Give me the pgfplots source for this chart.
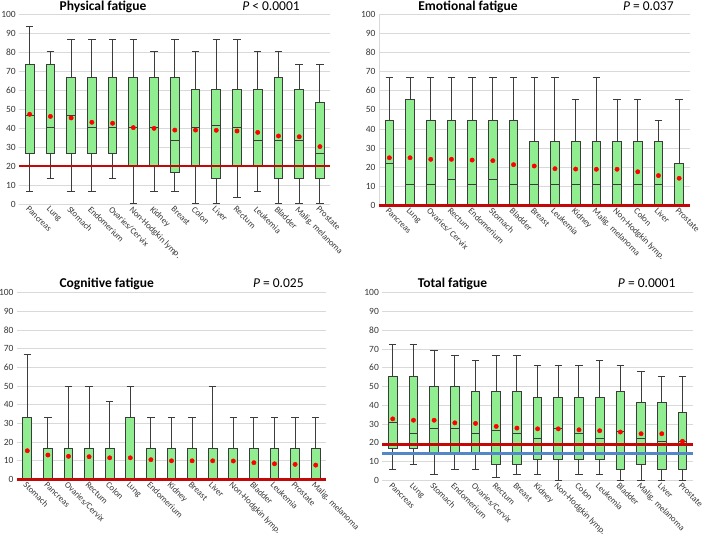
\documentclass[border=0pt]{standalone}
\usepackage{pgfplots}
\pgfplotsset{compat=1.18}
\usepgfplotslibrary{statistics}
\usepackage{fontspec}
\setmainfont{Carlito}
\definecolor{boxgreen}{RGB}{144,238,144}
\definecolor{boxedge}{RGB}{60,60,60}
\definecolor{gridgray}{RGB}{217,217,217}
\definecolor{ticktext}{RGB}{55,55,55}
\definecolor{thrred}{RGB}{196,8,8}
\definecolor{thrblue}{RGB}{84,135,200}
\definecolor{meanred}{RGB}{255,0,0}

\newcommand{\bx}[6]{\addplot[draw=boxedge, line width=1pt, fill=boxgreen,
  boxplot prepared={draw direction=y, draw position=#1, lower whisker=#2, lower quartile=#3,
  median=#4, upper quartile=#5, upper whisker=#6}] coordinates {};}

\pgfplotsset{
  panel/.style={
    scale only axis,
    anchor=south west,
    xmin=0.5, xmax=15.5, ymin=0, ymax=100,
    ytick={0,10,...,100},
    xtick={1,...,15},
    ymajorgrids, grid style={gridgray, line width=0.8pt},
    axis line style={draw=none},
    major tick length=0pt,
    tick label style={color=ticktext},
    yticklabel style={font=\fontsize{9.5}{11}\selectfont},
    xticklabel style={font=\fontsize{8.8}{10.5}\selectfont, rotate=-45, anchor=north west, inner sep=1pt},
    /pgf/number format/assume math mode=true,
    clip=false,
    boxplot/draw direction=y,
    boxplot/box extend=0.42,
    boxplot/whisker extend=0.36,
  },
}

\begin{document}
\begin{tikzpicture}
\useasboundingbox (0pt,0pt) rectangle (709pt,537pt);

% ---------------- Physical fatigue ----------------
\begin{axis}[panel, at={(19.3pt,333pt)}, width=311pt, height=190pt,
  xticklabels={Pancreas,Lung,Stomach,Endomerium,Ovaries/Cervix,Non-Hodgkin lymp.,Kidney,Breast,Colon,Liver,Rectum,Leukemia,Bladder,Malig. melanoma,Prostate}]
\bx{1}{6.7}{26.7}{46.7}{73.3}{93.3}
\bx{2}{13.3}{26.7}{40}{73.3}{80}
\bx{3}{6.7}{26.7}{46.7}{66.7}{86.7}
\bx{4}{6.7}{26.7}{40}{66.7}{86.7}
\bx{5}{13.3}{26.7}{40}{66.7}{86.7}
\bx{6}{0}{20}{40}{66.7}{86.7}
\bx{7}{6.7}{20}{40}{66.7}{80}
\bx{8}{6.7}{16.7}{33.3}{66.7}{86.7}
\bx{9}{0}{20}{40}{60}{80}
\bx{10}{0}{13.3}{41.3}{60}{86.7}
\bx{11}{3.3}{20}{40}{60}{86.7}
\bx{12}{6.7}{20}{33.3}{60}{80}
\bx{13}{0}{13.3}{33.3}{66.7}{80}
\bx{14}{0}{13.3}{33.3}{60}{73.3}
\bx{15}{0}{13.3}{26.7}{53.3}{73.3}
\addplot[thrred, line width=2.4pt] coordinates {(0.5,20) (15.5,20)};
\addplot[only marks, mark=*, mark size=2.2pt, color=meanred] coordinates {
(1,47.2) (2,46.1) (3,45.3) (4,43.0) (5,42.5) (6,40.2) (7,39.8) (8,38.9)
(9,38.9) (10,38.8) (11,38.4) (12,37.7) (13,35.8) (14,35.4) (15,30.2)};
\end{axis}

% ---------------- Emotional fatigue ----------------
\begin{axis}[panel, at={(379pt,331.3pt)}, width=310.5pt, height=191.7pt,
  axis y line*=left, y axis line style={draw=gridgray, line width=0.8pt},
  xticklabels={Pancreas,Lung,Ovaries/ Cervix,Rectum,Endomerium,Stomach,Bladder,Breast,Leukemia,Kidney,Malig. melanoma,Non-Hodgkin lymp.,Colon,Liver,Prostate}]
\bx{1}{0}{0}{22.2}{44.4}{66.7}
\bx{2}{0}{0}{11.1}{55.6}{66.7}
\bx{3}{0}{0}{11.1}{44.4}{66.7}
\bx{4}{0}{0}{13.9}{44.4}{66.7}
\bx{5}{0}{0}{11.1}{44.4}{66.7}
\bx{6}{0}{0}{13.9}{44.4}{66.7}
\bx{7}{0}{0}{11.1}{44.4}{66.7}
\bx{8}{0}{0}{11.1}{33.3}{66.7}
\bx{9}{0}{0}{11.1}{33.3}{66.7}
\bx{10}{0}{0}{11.1}{33.3}{55.6}
\bx{11}{0}{0}{11.1}{33.3}{66.7}
\bx{12}{0}{0}{11.1}{33.3}{55.6}
\bx{13}{0}{0}{11.1}{33.3}{55.6}
\bx{14}{0}{0}{11.1}{33.3}{44.4}
\bx{15}{0}{0}{0}{22.2}{55.6}
\addplot[thrred, line width=2.4pt] coordinates {(0.5,0) (15.5,0)};
\addplot[only marks, mark=*, mark size=2.2pt, color=meanred] coordinates {
(1,25.0) (2,25.0) (3,24.2) (4,24.2) (5,23.8) (6,23.5) (7,21.4) (8,20.7)
(9,19.3) (10,19.1) (11,19.0) (12,19.0) (13,17.7) (14,15.7) (15,14.3)};
\end{axis}

% ---------------- Cognitive fatigue ----------------
\begin{axis}[panel, at={(17pt,57.5pt)}, width=309pt, height=186.8pt,
  xticklabels={Stomach,Pancreas,Ovaries/Cervix,Rectum,Colon,Lung,Endomerium,Kidney,Breast,Liver,Non-Hodgkin lymp.,Bladder,Leukemia,Prostate,Malig. melanoma}]
\bx{1}{0}{0}{0}{33.3}{66.7}
\bx{2}{0}{0}{0}{16.7}{33.3}
\bx{3}{0}{0}{0}{16.7}{50}
\bx{4}{0}{0}{0}{16.7}{50}
\bx{5}{0}{0}{0}{16.7}{41.7}
\bx{6}{0}{0}{0}{33.3}{50}
\bx{7}{0}{0}{0}{16.7}{33.3}
\bx{8}{0}{0}{0}{16.7}{33.3}
\bx{9}{0}{0}{0}{16.7}{33.3}
\bx{10}{0}{0}{0}{16.7}{50}
\bx{11}{0}{0}{0}{16.7}{33.3}
\bx{12}{0}{0}{0}{16.7}{33.3}
\bx{13}{0}{0}{0}{16.7}{33.3}
\bx{14}{0}{0}{0}{16.7}{33.3}
\bx{15}{0}{0}{0}{16.7}{33.3}
\addplot[thrred, line width=2.4pt] coordinates {(0.5,0) (15.5,0)};
\addplot[only marks, mark=*, mark size=2.2pt, color=meanred] coordinates {
(1,15.4) (2,13.1) (3,12.4) (4,12.2) (5,11.6) (6,11.6) (7,10.6) (8,10.0)
(9,10.0) (10,10.0) (11,9.9) (12,9.0) (13,8.4) (14,8.1) (15,7.7)};
\end{axis}

% ---------------- Total fatigue ----------------
\begin{axis}[panel, at={(382.4pt,56.5pt)}, width=310.4pt, height=187.8pt,
  xticklabels={Pancreas,Lung,Stomach,Endomerium,Ovaries/Cervix,Rectum,Breast,Kidney,Non-Hodgkin lymp.,Colon,Leukemia,Bladder,Malig. melanoma,Liver,Prostate}]
\bx{1}{6.1}{16.9}{30.7}{55.6}{72.2}
\bx{2}{8.6}{16.9}{25.0}{55.6}{72.2}
\bx{3}{3.0}{13.9}{27.8}{50.0}{69.4}
\bx{4}{6.1}{13.9}{27.8}{50.0}{66.7}
\bx{5}{6.1}{13.9}{25.0}{47.2}{63.9}
\bx{6}{1.6}{8.4}{26.5}{47.2}{66.7}
\bx{7}{3.0}{8.4}{25.0}{47.2}{66.7}
\bx{8}{3.0}{11.1}{22.2}{44.4}{61.1}
\bx{9}{0}{11.1}{27.8}{44.4}{61.1}
\bx{10}{3.0}{11.1}{24.8}{44.4}{61.1}
\bx{11}{3.0}{11.1}{22.2}{44.4}{63.9}
\bx{12}{0}{6.1}{25.9}{47.2}{61.1}
\bx{13}{0}{8.4}{22.2}{41.7}{58.3}
\bx{14}{0}{6.1}{21.0}{41.7}{55.6}
\bx{15}{0}{6.1}{20.8}{36.1}{55.6}
\addplot[thrred, line width=2.4pt] coordinates {(0.5,19.1) (15.5,19.1)};
\addplot[thrblue, line width=2.4pt] coordinates {(0.5,14.3) (15.5,14.3)};
\addplot[only marks, mark=*, mark size=2.2pt, color=meanred] coordinates {
(1,32.8) (2,32.1) (3,32.1) (4,30.7) (5,30.4) (6,28.8) (7,27.9) (8,27.5)
(9,27.5) (10,27.0) (11,26.5) (12,25.8) (13,24.9) (14,24.9) (15,20.9)};
\end{axis}

% ---------------- titles ----------------
\node[anchor=base, font=\bfseries\fontsize{13.5}{16}\selectfont] at (103pt,526pt) {Physical fatigue};
\node[anchor=base, font=\fontsize{13.5}{16}\selectfont] at (271pt,526pt) {\textit{P} < 0.0001};
\node[anchor=base, font=\bfseries\fontsize{13.5}{16}\selectfont] at (468pt,526.5pt) {Emotional fatigue};
\node[anchor=base, font=\fontsize{13.5}{16}\selectfont] at (648.3pt,526.5pt) {\textit{P} = 0.037};
\node[anchor=base, font=\bfseries\fontsize{13.5}{16}\selectfont] at (106.7pt,249.7pt) {Cognitive fatigue};
\node[anchor=base, font=\fontsize{13.5}{16}\selectfont] at (278.3pt,249.7pt) {\textit{P} = 0.025};
\node[anchor=base, font=\bfseries\fontsize{13.5}{16}\selectfont] at (452.5pt,249.7pt) {Total fatigue};
\node[anchor=base, font=\fontsize{13.5}{16}\selectfont] at (646.7pt,249.7pt) {\textit{P} = 0.0001};
\end{tikzpicture}
\end{document}
